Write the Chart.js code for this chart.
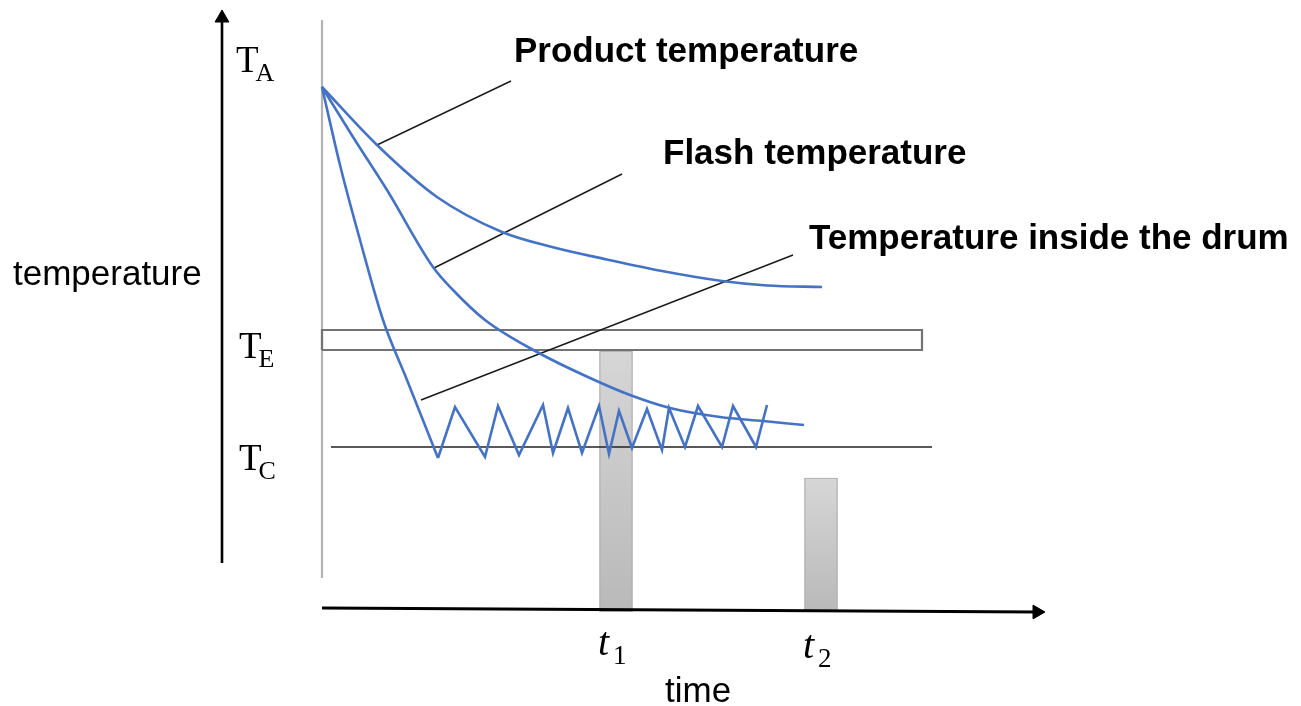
<!DOCTYPE html>
<html>
<head>
<meta charset="utf-8">
<script src="https://cdn.jsdelivr.net/npm/chart.js@4.4.1/dist/chart.umd.min.js"></script>
<style>
  html, body { margin: 0; padding: 0; background: #fff; }
  canvas { display: block; }
</style>
</head>
<body>
<canvas id="chart" width="1301" height="706"></canvas>
<script>
// schematic values (time / temperature in arbitrary units)
const productTime = [0, 5.5, 11.5, 18, 23, 28.5, 34, 40, 44.5, 50];
const productTemp = [105, 93.4, 83, 76, 73, 70.5, 68.2, 66.2, 65.3, 65];

const flashTime = [0, 3.1, 6.5, 11.1, 13.1, 16.3, 21.5, 26.8, 30.8, 34.8, 39.8, 44.1, 48.2];
const flashTemp = [105, 95, 84.4, 69, 64.4, 58.4, 52, 46.8, 43.4, 40.8, 39, 38.2, 37.4];

// drum: fast drop, then the on/off cycling around T_C
const drumDropTime = [0, 1.8, 3.8, 6.1, 8.5, 11.6];
const drumDropTemp = [105, 89.4, 74.4, 58.4, 46.4, 30.8];
const drumCycleTime = [11.6, 13.3, 16.3, 17.6, 19.7, 22.1, 23.1, 24.6, 26, 27.7, 28.7, 29.7,
                       31, 32.5, 34, 34.7, 36.3, 37.6, 40, 41.1, 43.4, 44.5];
const drumCycleTemp = [30.8, 41, 31, 41.2, 31.4, 41.4, 31.8, 40.8, 31.8, 41.2, 31.6, 40.2,
                       32.8, 40.6, 32.4, 40.8, 33, 41.2, 33, 41.2, 33, 41.4];

// levels
const tempE = [52.4, 56.4];   // band around T_E
const tempC = 33;
const bandTime = [0, 60];
const tcLineTime = [0.9, 61];

// grey bars at t1 and t2
const barTime = [29.4, 49.9];
const barTop = [52.2, 26.8];

// leader lines from curves to their labels
const productLeader = [[5.5, 93.4], [18.9, 106.2]];
const flashLeader = [[11.2, 68.8], [30, 87.6]];
const drumLeader = [[9.9, 42.4], [47.1, 71.4]];

// axes
const yAxisLine = [[-10, 9.8], [-10, 118.8]];
const xAxisLine = [[0, 0.8], [71.5, 0]];
const originLine = [[0, 6.8], [0, 118.4]];

// texts
const calloutText = ["Product temperature", "Flash temperature", "Temperature inside the drum"];
const calloutAt = [[19.2, 110], [34.1, 89.6], [48.7, 72.6]];
const axisText = ["temperature", "time"];
const axisAt = [[-30.9, 65.4], [34.3, -18]];
const levelSub = ["A", "E", "C"];
const levelAt = [[-8.6, 108], [-8.3, 50.8], [-8.3, 28.4]];
const timeSub = ["1", "2"];
const timeAt = [[27.6, -8.6], [48.1, -9.2]];

const BLUE = "#4472c4";

function zip(xs, ys) {
    return xs.map((v, i) => ({ x: v, y: ys[i] }));
}
function pts(arr) {
    return arr.map(p => ({ x: p[0], y: p[1] }));
}
function segment(data, color, width) {
    return {
        type: "line", data: pts(data), borderColor: color, borderWidth: width,
        pointRadius: 0, tension: 0, clip: false, order: 1,
    };
}
function curve(data, smooth) {
    return {
        type: "line", data: data, borderColor: BLUE, borderWidth: 2.6, pointRadius: 0,
        cubicInterpolationMode: smooth ? "monotone" : "default", tension: 0,
        clip: false, order: 0,
    };
}

const bandBox = [
    [bandTime[0], tempE[0]], [bandTime[1], tempE[0]],
    [bandTime[1], tempE[1]], [bandTime[0], tempE[1]], [bandTime[0], tempE[0]],
];

const textPlugin = {
    id: "texts",
    afterDatasetsDraw(chart) {
        const { ctx, scales: { x, y } } = chart;
        ctx.save();
        ctx.fillStyle = "#000";
        ctx.textBaseline = "alphabetic";

        ctx.font = "bold 35px 'Liberation Sans', Arial, sans-serif";
        calloutText.forEach((t, i) => {
            ctx.fillText(t, x.getPixelForValue(calloutAt[i][0]), y.getPixelForValue(calloutAt[i][1]));
        });

        ctx.font = "35px 'Liberation Sans', Arial, sans-serif";
        axisText.forEach((t, i) => {
            ctx.fillText(t, x.getPixelForValue(axisAt[i][0]), y.getPixelForValue(axisAt[i][1]));
        });

        levelSub.forEach((s, i) => {
            const px = x.getPixelForValue(levelAt[i][0]);
            const py = y.getPixelForValue(levelAt[i][1]);
            ctx.font = "37px 'Liberation Serif', serif";
            const w = ctx.measureText("T").width;
            ctx.fillText("T", px, py);
            ctx.font = "26px 'Liberation Serif', serif";
            ctx.fillText(s, px + w - 3, py + 9);
        });

        timeSub.forEach((s, i) => {
            const px = x.getPixelForValue(timeAt[i][0]);
            const py = y.getPixelForValue(timeAt[i][1]);
            ctx.font = "italic 40px 'Liberation Serif', serif";
            const w = ctx.measureText("t").width;
            ctx.fillText("t", px, py);
            ctx.font = "27px 'Liberation Serif', serif";
            ctx.fillText(s, px + w + 4, py + 9);
        });
        ctx.restore();
    }
};

function barFill(context) {
    const chart = context.chart;
    if (!chart.chartArea || context.type !== "data") return "#c8c8c8";
    const yScale = chart.scales.y;
    const top = yScale.getPixelForValue(context.raw.y[1]);
    const bottom = yScale.getPixelForValue(context.raw.y[0]);
    const g = chart.ctx.createLinearGradient(0, top, 0, bottom);
    g.addColorStop(0, "#d6d6d6");
    g.addColorStop(1, "#b9b9b9");
    return g;
}

new Chart(document.getElementById("chart"), {
    type: "scatter",
    data: {
        datasets: [
            curve(zip(productTime, productTemp), true),
            curve(zip(flashTime, flashTemp), true),
            curve(zip(drumDropTime, drumDropTemp), true),
            curve(zip(drumCycleTime, drumCycleTemp), false),
            segment(productLeader, "#1a1a1a", 1.4),
            segment(flashLeader, "#1a1a1a", 1.4),
            segment(drumLeader, "#1a1a1a", 1.4),
            segment(bandBox, "#737373", 2.2),
            segment([[tcLineTime[0], tempC], [tcLineTime[1], tempC]], "#222", 1.6),
            segment(originLine, "#b3b3b3", 2.2),
            segment(yAxisLine, "#000", 2.6),
            segment(xAxisLine, "#000", 3),
            {
                type: "scatter",
                data: [{ x: yAxisLine[1][0], y: yAxisLine[1][1] }, { x: xAxisLine[1][0], y: xAxisLine[1][1] }],
                pointStyle: "triangle", pointRadius: 8, pointRotation: [0, 90],
                backgroundColor: "#000", borderColor: "#000", borderWidth: 1, clip: false, order: 1,
            },
            {
                type: "bar",
                data: barTime.map((t, i) => ({ x: t, y: [0, barTop[i]] })),
                backgroundColor: barFill, borderColor: "#a8a8a8", borderWidth: 1.2,
                barThickness: 33, grouped: false, order: 10,
            },
        ]
    },
    options: {
        responsive: false,
        animation: false,
        events: [],
        layout: { autoPadding: false, padding: { left: 202, right: 239, top: 2, bottom: 84 } },
        plugins: { legend: { display: false }, tooltip: { enabled: false } },
        scales: {
            x: { type: "linear", min: -12, max: 74, offset: false, display: false },
            y: { type: "linear", min: -2, max: 122, display: false },
        },
    },
    plugins: [textPlugin],
});
</script>
</body>
</html>
